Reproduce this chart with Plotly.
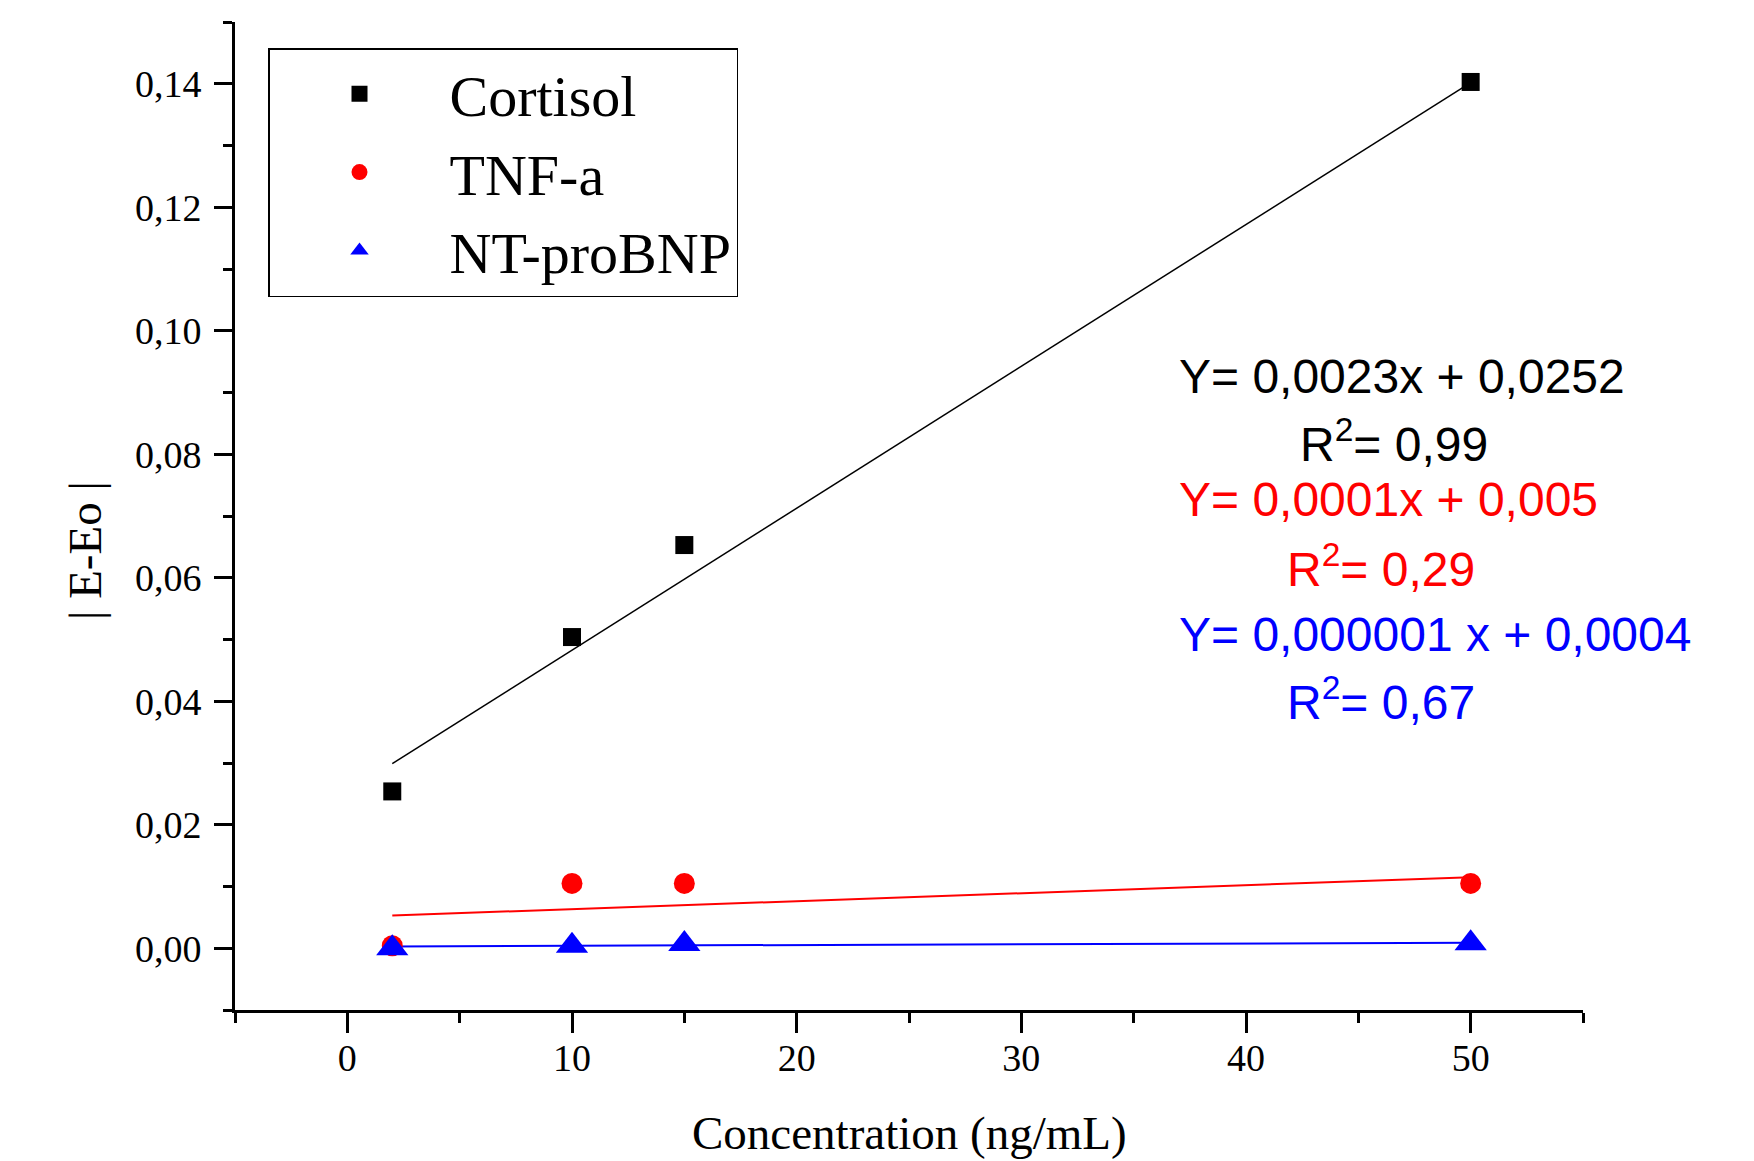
import plotly.graph_objects as go

# Data
conc = [2, 10, 15, 50]
cortisol = [0.0254, 0.0504, 0.0653, 0.1403]
tnf = [0.0004, 0.0105, 0.0105, 0.0105]
ntprobnp = [0.0000, 0.0004, 0.0007, 0.0008]

fit_x = [2, 50]
cortisol_fit = [0.0299, 0.1402]
tnf_fit = [0.0053, 0.0115]
nt_fit = [0.0003, 0.0009]

x_ticks = [0, 10, 20, 30, 40, 50]
y_ticks = [0.00, 0.02, 0.04, 0.06, 0.08, 0.10, 0.12, 0.14]

eq_texts = ["Y= 0,0023x + 0,0252", "R<sup>2</sup>= 0,99",
            "Y= 0,0001x + 0,005", "R<sup>2</sup>= 0,29",
            "Y= 0,000001 x + 0,0004", "R<sup>2</sup>= 0,67"]
eq_colors = ["black", "black", "red", "red", "blue", "blue"]

W, H = 1754, 1161
OFF = 8  # browser body margin
# plot area in page pixels
PL, PR, PT, PB = 235, 1583, 22, 1010
L = PL - OFF
R = W - (PR - OFF)
T = PT - OFF
B = H - (PB - OFF)
pw, ph = PR - PL, PB - PT

def px(xp):
    return (xp - PL) / pw

def py(yp):
    return (PB - yp) / ph

serif = "Liberation Serif"
sans = "Liberation Sans"

fig = go.Figure()
fig.add_trace(go.Scatter(x=fit_x, y=cortisol_fit, mode="lines",
                         line=dict(color="black", width=1.5), showlegend=False, hoverinfo="skip"))
fig.add_trace(go.Scatter(x=fit_x, y=tnf_fit, mode="lines",
                         line=dict(color="red", width=2), showlegend=False, hoverinfo="skip"))
fig.add_trace(go.Scatter(x=fit_x, y=nt_fit, mode="lines",
                         line=dict(color="blue", width=2), showlegend=False, hoverinfo="skip"))
fig.add_trace(go.Scatter(x=conc, y=cortisol, mode="markers", name="Cortisol",
                         marker=dict(symbol="square", size=18, color="black")))
fig.add_trace(go.Scatter(x=conc, y=tnf, mode="markers", name="TNF-a",
                         marker=dict(symbol="circle", size=21, color="red")))
fig.add_trace(go.Scatter(x=conc, y=ntprobnp, mode="markers", name="NT-proBNP",
                         marker=dict(symbol="triangle-up", size=28, color="blue")))

annotations = []
eq_pos = [(1177, 376), (1298, 441), (1177, 500), (1285, 566), (1177, 634), (1285, 699)]
for t, c, (xp, yp) in zip(eq_texts, eq_colors, eq_pos):
    annotations.append(dict(text=t, x=px(xp), y=py(yp), xref="paper", yref="paper",
                            xanchor="left", yanchor="middle", showarrow=False,
                            font=dict(family=sans, size=48, color=c)))
annotations.append(dict(text="| E-Eo |", x=px(85), y=py(551), xref="paper", yref="paper",
                        textangle=-90, showarrow=False, xanchor="center", yanchor="middle",
                        font=dict(family=serif, size=47, color="black")))
annotations.append(dict(text="Concentration (ng/mL)", x=0.5, y=py(1133), xref="paper", yref="paper",
                        showarrow=False, xanchor="center", yanchor="middle",
                        font=dict(family=serif, size=47, color="black")))

fig.update_layout(
    width=W, height=H,
    margin=dict(l=L, r=R, t=T, b=B),
    plot_bgcolor="white", paper_bgcolor="white",
    separators=",.",
    annotations=annotations,
    legend=dict(x=px(268), y=py(48), xanchor="left", yanchor="top",
                bordercolor="black", borderwidth=1.5, bgcolor="white",
                font=dict(family=serif, size=58, color="black"),
                itemwidth=170, tracegroupgap=0,
                entrywidthmode="pixels", entrywidth=310),
)
fig.update_xaxes(range=[-5.0001, 55.0001], tickvals=x_ticks, ticks="outside", ticklen=20, tickwidth=3,
                 tickcolor="black", showline=True, linewidth=3, linecolor="black",
                 showgrid=False, zeroline=False, ticklabelstandoff=-8,
                 tickfont=dict(family=serif, size=38, color="black"),
                 minor=dict(dtick=5, tick0=0, ticks="outside", ticklen=10, tickwidth=3, tickcolor="black", showgrid=False))
fig.update_yaxes(range=[-0.01, 0.15001], tickvals=y_ticks, tickformat=".2f", ticks="outside", ticklen=18,
                 tickwidth=3, tickcolor="black", showline=True, linewidth=3, linecolor="black",
                 showgrid=False, zeroline=False, ticklabelstandoff=5,
                 tickfont=dict(family=serif, size=38, color="black"),
                 minor=dict(dtick=0.01, tick0=0, ticks="outside", ticklen=9, tickwidth=3, tickcolor="black", showgrid=False))

fig.write_html("out.html")
